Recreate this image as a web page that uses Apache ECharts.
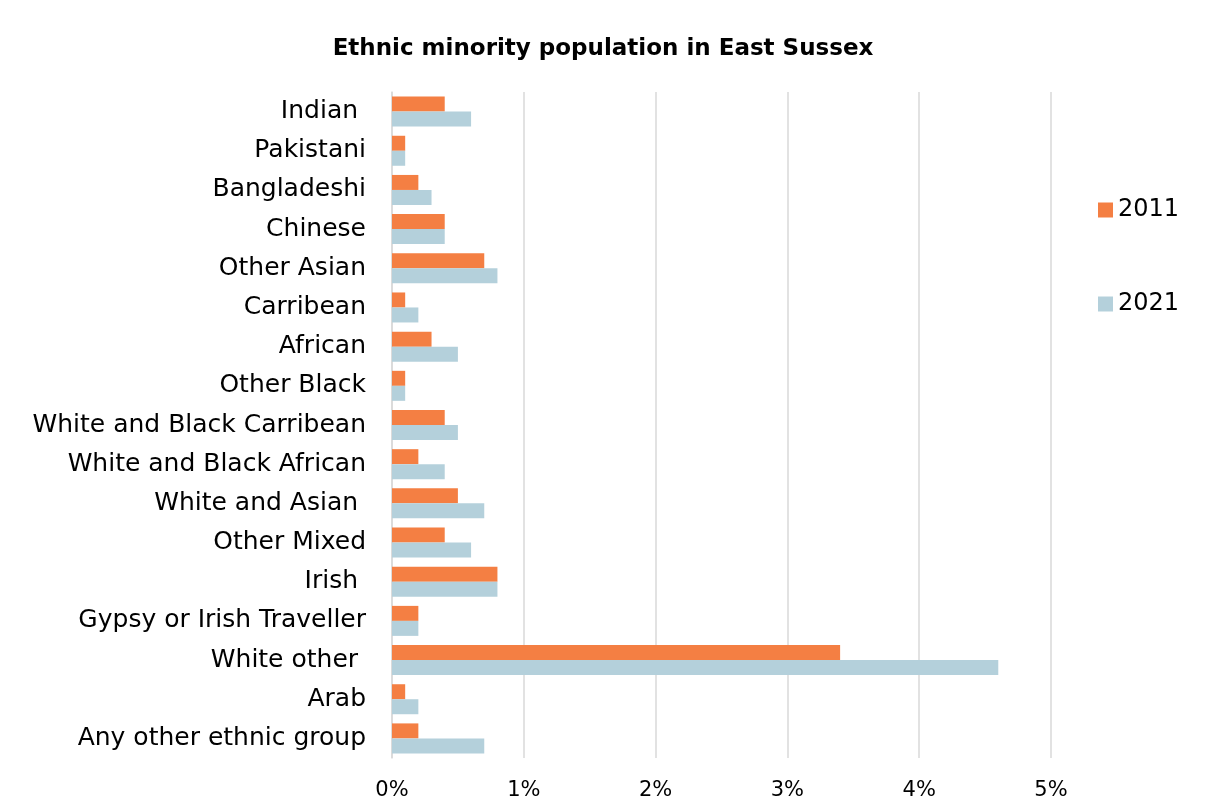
<!DOCTYPE html>
<html><head><meta charset="utf-8">
<script src="https://cdn.jsdelivr.net/npm/echarts@6/dist/echarts.min.js"></script>
<style>html,body{margin:0;padding:0;background:#fff}#c{width:1206px;height:806px}</style>
</head><body><div id="c"></div>
<script>
const categories = ["Indian ","Pakistani","Bangladeshi","Chinese","Other Asian","Carribean","African","Other Black","White and Black Carribean","White and Black African","White and Asian ","Other Mixed","Irish ","Gypsy or Irish Traveller","White other ","Arab","Any other ethnic group"];
const values2011 = [0.4,0.1,0.2,0.4,0.7,0.1,0.3,0.1,0.4,0.2,0.5,0.4,0.8,0.2,3.4,0.1,0.2];
const values2021 = [0.6,0.1,0.3,0.4,0.8,0.2,0.5,0.1,0.5,0.4,0.7,0.6,0.8,0.2,4.6,0.2,0.7];
const xTicks = [0,1,2,3,4,5];
const F = "DejaVu Sans";
const chart = echarts.init(document.getElementById('c'));
chart.setOption({
  backgroundColor:'#fff',
  animation:false,
  title:{text:'Ethnic minority population in East Sussex',left:'center',top:33,
    textStyle:{fontFamily:F,fontSize:23,fontWeight:'bold',color:'#000'}},
  legend:{orient:'vertical',left:1093,top:193,itemGap:70,itemWidth:15,itemHeight:15,
    icon:'rect',textStyle:{fontFamily:F,fontSize:24,color:'#000'},
    data:['2011','2021']},
  grid:{left:392,right:155,top:92,bottom:48,containLabel:false},
  xAxis:{type:'value',min:xTicks[0],max:xTicks[xTicks.length-1],interval:1,
    axisLine:{show:false},axisTick:{show:false},
    splitLine:{lineStyle:{color:'#d9d9d9',width:1.5}},
    axisLabel:{formatter:v=>v+'%',fontFamily:F,fontSize:21,color:'#000',margin:22}},
  yAxis:{type:'category',data:categories,inverse:true,
    axisLine:{show:true,lineStyle:{color:'#d9d9d9',width:1.5}},axisTick:{show:false},
    axisLabel:{fontFamily:F,fontSize:25,color:'#000',margin:26}},
  series:[
    {name:'2011',type:'bar',data:values2011,barWidth:15,barGap:'0%',barCategoryGap:'23%',
     itemStyle:{color:'#F47F43'}},
    {name:'2021',type:'bar',data:values2021,barWidth:15,barGap:'0%',
     itemStyle:{color:'#B4D0DB'}}
  ]
});
</script></body></html>
